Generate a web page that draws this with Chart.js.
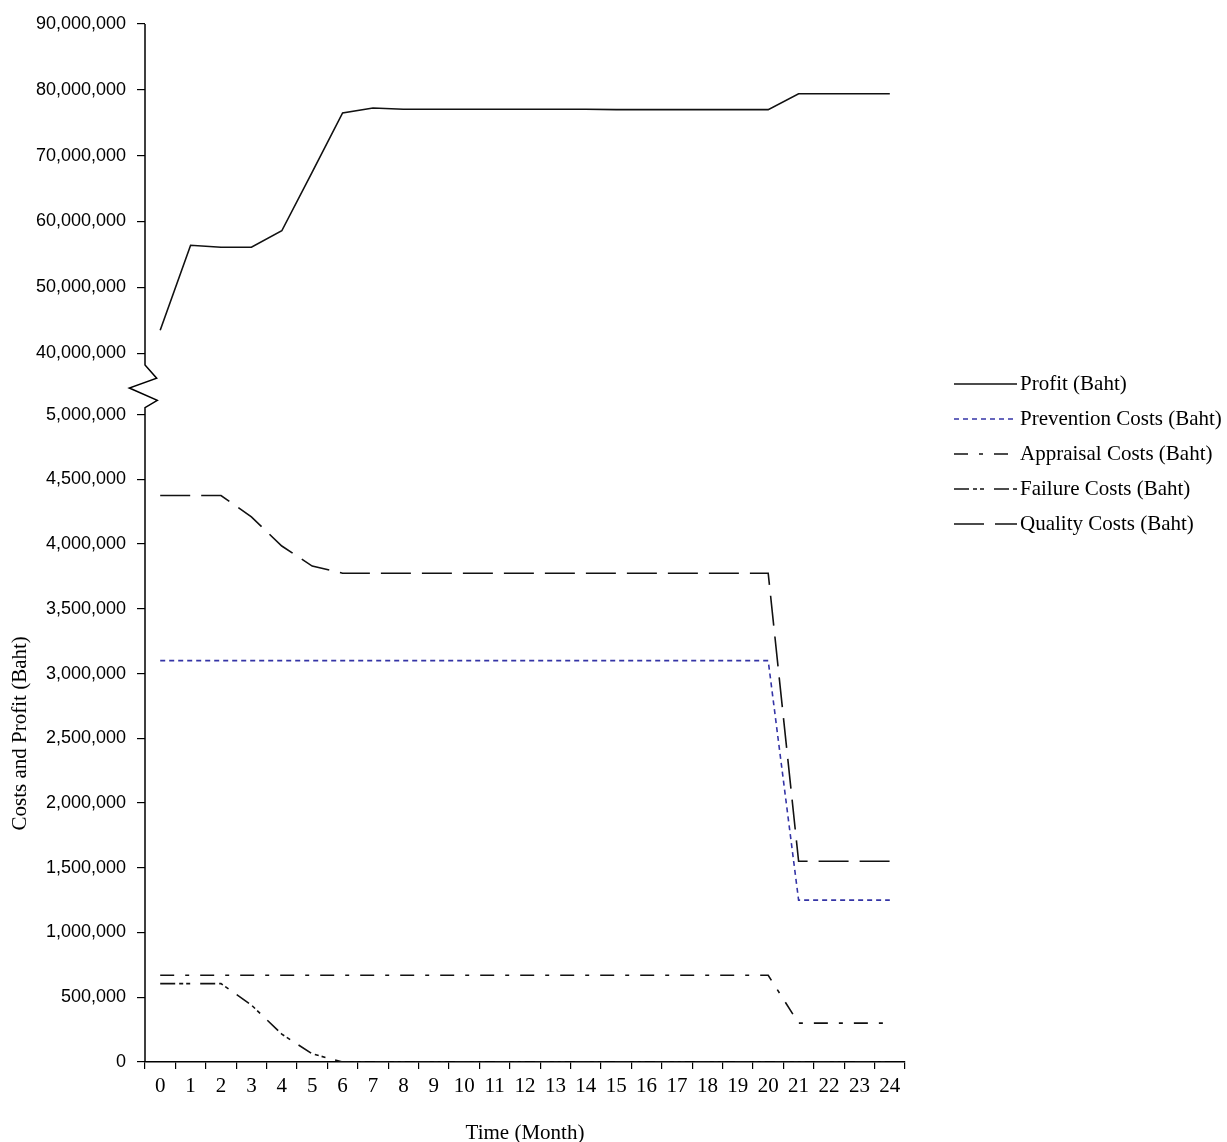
<!DOCTYPE html>
<html>
<head>
<meta charset="utf-8">
<script src="https://cdn.jsdelivr.net/npm/chart.js@4.4.1/dist/chart.umd.min.js"></script>
<style>
html,body{margin:0;padding:0;background:#fff}
canvas{display:block}
</style>
</head>
<body>
<canvas id="c" width="1227" height="1142"></canvas>
<script>
// ---- data (Baht) ----
const months = ['0','1','2','3','4','5','6','7','8','9','10','11','12','13','14','15','16','17','18','19','20','21','22','23','24'];
const profit     = [43500000,56400000,56100000,56100000,58600000,67500000,76500000,77250000,77050000,77050000,77050000,77050000,77050000,77050000,77050000,77000000,77000000,77000000,77000000,77000000,77000000,79400000,79400000,79400000,79400000];
const prevention = [3100000,3100000,3100000,3100000,3100000,3100000,3100000,3100000,3100000,3100000,3100000,3100000,3100000,3100000,3100000,3100000,3100000,3100000,3100000,3100000,3100000,1250000,1250000,1250000,1250000];
const appraisal  = [670000,670000,670000,670000,670000,670000,670000,670000,670000,670000,670000,670000,670000,670000,670000,670000,670000,670000,670000,670000,670000,300000,300000,300000,300000];
const failure    = [605000,605000,605000,440000,215000,63000,0,0,0,0,0,0,0,0,0,0,0,0,0,0,0,0,0,0,0];
const quality    = [4375000,4375000,4375000,4210000,3985000,3830000,3775000,3775000,3775000,3775000,3775000,3775000,3775000,3775000,3775000,3775000,3775000,3775000,3775000,3775000,3775000,1550000,1550000,1550000,1550000];
const lowerTicks = [0,500000,1000000,1500000,2000000,2500000,3000000,3500000,4000000,4500000,5000000];
const upperTicks = [40000000,50000000,60000000,70000000,80000000,90000000];
const seriesNames = ['Profit (Baht)','Prevention Costs (Baht)','Appraisal Costs (Baht)','Failure Costs (Baht)','Quality Costs (Baht)'];

// ---- broken axis transform ----
const BREAK_LOW = 5000000, BREAK_HIGH = 40000000, GAP = 474000, UPPER_RATIO = 0.05085;
function toAxis(v){ return v <= BREAK_LOW ? v : BREAK_LOW + GAP + (v - BREAK_HIGH) * UPPER_RATIO; }
const allTicks = lowerTicks.concat(upperTicks);

const SERIF = '"Liberation Serif", "Times New Roman", serif';
const black = '#000';

const breakAndLegend = {
  id: 'breakAndLegend',
  afterDraw(chart){
    const ctx = chart.ctx, ca = chart.chartArea, y = chart.scales.y;
    const x0 = ca.left;
    const y40 = y.getPixelForValue(toAxis(BREAK_HIGH));
    const y5 = y.getPixelForValue(toAxis(BREAK_LOW));
    const bt = y40 + 11.7, bb = y5 - 7, h = bb - bt;
    ctx.save();
    ctx.strokeStyle = black; ctx.lineWidth = 1.5;
    ctx.beginPath();
    ctx.moveTo(x0, ca.top);
    ctx.lineTo(x0, bt);
    ctx.lineTo(x0 + 11.7, bt + h * 0.31);
    ctx.lineTo(x0 - 15.7, bt + h * 0.54);
    ctx.lineTo(x0 + 12.3, bt + h * 0.83);
    ctx.lineTo(x0, bb);
    ctx.lineTo(x0, ca.bottom);
    ctx.stroke();

    // y-axis title (centred on lower segment)
    ctx.translate(20, (y5 + ca.bottom) / 2 - 5);
    ctx.rotate(-Math.PI / 2);
    ctx.fillStyle = black;
    ctx.font = '21px ' + SERIF;
    ctx.textAlign = 'center'; ctx.textBaseline = 'middle';
    ctx.fillText('Costs and Profit (Baht)', 0, 0);
    ctx.restore();

    // legend
    ctx.save();
    chart.data.datasets.forEach((ds, i) => {
      const ly = 384 + i * 35;
      ctx.strokeStyle = ds.borderColor; ctx.lineWidth = 1.4;
      ctx.setLineDash(ds.borderDash || []);
      ctx.beginPath(); ctx.moveTo(ca.right + 49, ly); ctx.lineTo(ca.right + 112, ly); ctx.stroke();
      ctx.setLineDash([]);
      ctx.fillStyle = black; ctx.font = '21px ' + SERIF;
      ctx.textAlign = 'left'; ctx.textBaseline = 'middle';
      ctx.fillText(ds.label, ca.right + 115, ly);
    });
    ctx.restore();
  }
};

const mk = (label, data, color, dash, w) => ({
  label, data: data.map(toAxis), borderColor: color, borderWidth: w || 1.6,
  borderDash: dash, pointRadius: 0, tension: 0, fill: false
});

new Chart(document.getElementById('c'), {
  type: 'line',
  data: {
    labels: months,
    datasets: [
      mk(seriesNames[0], profit, '#111', []),
      mk(seriesNames[1], prevention, '#3434a6', [5, 4]),
      mk(seriesNames[2], appraisal, '#111', [14, 11, 4, 11]),
      mk(seriesNames[3], failure, '#111', [15, 4, 4, 3, 4, 10]),
      mk(seriesNames[4], quality, '#111', [30, 11])
    ]
  },
  options: {
    responsive: false, animation: false,
    layout: { padding: { top: 24, right: 322, left: 0, bottom: 0 } },
    plugins: { legend: { display: false }, tooltip: { enabled: false } },
    scales: {
      x: {
        type: 'category', offset: true,
        grid: { offset: true, drawOnChartArea: false, tickLength: 7, color: black, lineWidth: 1.2 },
        border: { display: true, color: black, width: 1.6 },
        ticks: { color: black, font: { family: SERIF, size: 21 }, maxRotation: 0, autoSkip: false, padding: 5 },
        title: { display: true, text: 'Time (Month)', color: black, font: { family: SERIF, size: 21 }, padding: { top: 0, bottom: -4 } },
        afterFit(s){ s.height = 80; }
      },
      y: {
        type: 'linear', min: 0, max: toAxis(90000000),
        afterBuildTicks(s){ s.ticks = allTicks.map(v => ({ value: toAxis(v) })); },
        grid: { drawOnChartArea: false, tickLength: 8, color: black, lineWidth: 1.2 },
        border: { display: false },
        ticks: {
          color: black, padding: 11, font: { family: '"Liberation Sans", Arial, sans-serif', size: 18 },
          callback: (val, idx) => allTicks[idx].toLocaleString('en-US')
        },
        afterFit(s){ s.width = 145; }
      }
    }
  },
  plugins: [breakAndLegend]
});
</script>
</body>
</html>
